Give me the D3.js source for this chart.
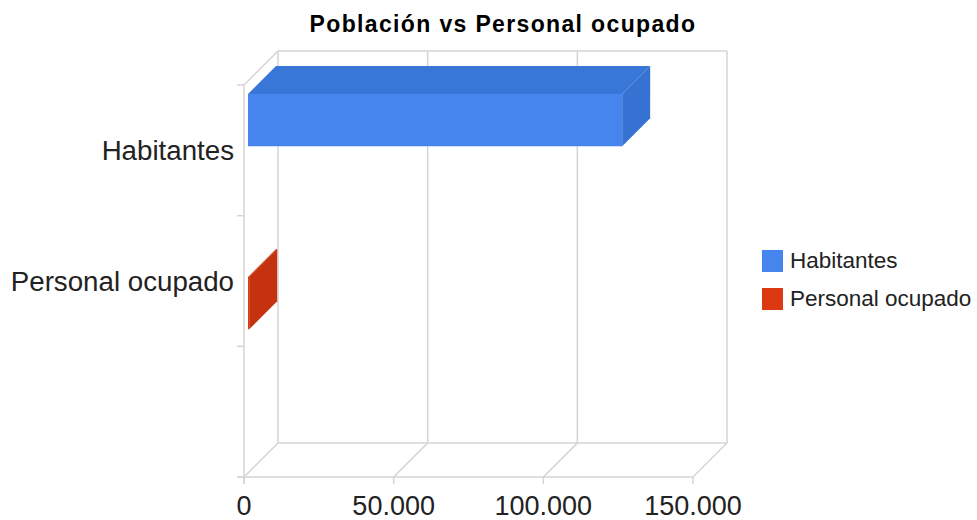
<!DOCTYPE html>
<html>
<head>
<meta charset="utf-8">
<script src="https://cdn.jsdelivr.net/npm/d3@7"></script>
<style>
  body { margin: 0; background: #fff; }
  svg { display: block; font-family: "Liberation Sans", Arial, sans-serif; }
</style>
</head>
<body>
<div id="canvas"></div>
<script>
// data
var categories = ["Habitantes", "Personal ocupado", ""];
var series = ["Habitantes", "Personal ocupado"];
var habitantes = [125000, 0, 0];
var personalOcupado = [0, 400, 0];
var xTicks = [0, 50000, 100000, 150000];
var title = "Población vs Personal ocupado";

var values = [habitantes, personalOcupado];

// colours per series: [front, top, side]
var shades = {
  "Habitantes": ["#4684ee", "#3877d8", "#3673d3"],
  "Personal ocupado": ["#dc3912", "#c8340f", "#c4320f"]
};
var legendColors = ["#4684ee", "#dc3912"];

var width = 977, height = 520;
var depth = 34;          // depth of the 3d box
var d0 = 4, d1 = 32;     // bar starts / ends in depth

var svg = d3.select("#canvas")
    .append("svg")
    .attr("width", width)
    .attr("height", height);

var x = d3.scaleLinear().domain([0, 150000]).range([244, 693]);

var y0 = d3.scaleBand()
    .domain(categories)
    .range([85, 477])
    .paddingInner(0.2)
    .paddingOuter(0.1);

var y1 = d3.scaleBand()
    .domain(series)
    .range([0, y0.bandwidth()]);

var es = d3.formatLocale({ decimal: ",", thousands: ".", grouping: [3], currency: ["", " €"] });
var fmt = es.format(",d");

var yTop = y0.range()[0], yBottom = y0.range()[1];
var step = y0.step();
var yBounds = d3.range(categories.length + 1).map(function (i) { return yTop + i * step; });

var grid = svg.append("g")
    .attr("stroke", "#d4d4d4")
    .attr("stroke-width", 1.5)
    .attr("fill", "none");

// back wall: vertical grid lines
grid.selectAll(".vgrid")
    .data(xTicks)
  .enter().append("line")
    .attr("x1", function (d) { return x(d) + depth; })
    .attr("x2", function (d) { return x(d) + depth; })
    .attr("y1", yTop - depth)
    .attr("y2", yBottom - depth);

// back wall top + bottom
grid.append("line")
    .attr("x1", x(0) + depth).attr("x2", x(150000) + depth)
    .attr("y1", yTop - depth).attr("y2", yTop - depth);
grid.append("line")
    .attr("x1", x(0) + depth).attr("x2", x(150000) + depth)
    .attr("y1", yBottom - depth).attr("y2", yBottom - depth);

// floor diagonals
grid.selectAll(".diag")
    .data(xTicks)
  .enter().append("line")
    .attr("x1", function (d) { return x(d); })
    .attr("x2", function (d) { return x(d) + depth; })
    .attr("y1", yBottom)
    .attr("y2", yBottom - depth);

// top left diagonal
grid.append("line")
    .attr("x1", x(0)).attr("x2", x(0) + depth)
    .attr("y1", yTop).attr("y2", yTop - depth);

// front axes
grid.append("line")
    .attr("x1", x(0)).attr("x2", x(0))
    .attr("y1", yTop).attr("y2", yBottom + 7);
grid.append("line")
    .attr("x1", x(0) - 7).attr("x2", x(150000))
    .attr("y1", yBottom).attr("y2", yBottom);

grid.selectAll(".ytick")
    .data(yBounds)
  .enter().append("line")
    .attr("x1", x(0) - 7).attr("x2", x(0))
    .attr("y1", function (d) { return d; })
    .attr("y2", function (d) { return d; });

grid.selectAll(".xtick")
    .data(xTicks)
  .enter().append("line")
    .attr("x1", function (d) { return x(d); })
    .attr("x2", function (d) { return x(d); })
    .attr("y1", yBottom)
    .attr("y2", yBottom + 7);

// bars
var bars = [];
categories.forEach(function (c, i) {
  series.forEach(function (s, j) {
    if (values[j][i] > 0) bars.push({ cat: c, ser: s, value: values[j][i] });
  });
});

function pts(a) { return a.map(function (p) { return p.join(","); }).join(" "); }

var g = svg.selectAll(".bar")
    .data(bars)
  .enter().append("g")
    .attr("class", "bar");

g.each(function (d) {
  var el = d3.select(this);
  var top = y0(d.cat) + y1(d.ser), h = y1.bandwidth();
  var xa = x(0), xb = x(d.value);
  var col = shades[d.ser];

  el.append("polygon")
    .attr("fill", col[0])
    .attr("points", pts([[xa + d0, top - d0], [xb + d0, top - d0], [xb + d0, top + h - d0], [xa + d0, top + h - d0]]));
  el.append("polygon")
    .attr("fill", col[1])
    .attr("points", pts([[xa + d0, top - d0], [xb + d0, top - d0], [xb + d1, top - d1], [xa + d1, top - d1]]));
  el.append("polygon")
    .attr("fill", col[2])
    .attr("points", pts([[xb + d0, top - d0], [xb + d1, top - d1], [xb + d1, top + h - d1], [xb + d0, top + h - d0]]));
});

// category labels
svg.selectAll(".cat")
    .data(categories)
  .enter().append("text")
    .attr("x", 234)
    .attr("y", function (d) { return y0(d) + y0.bandwidth() / 2; })
    .attr("dy", "0.36em")
    .attr("text-anchor", "end")
    .attr("font-size", 27.7)
    .attr("fill", "#222")
    .text(function (d) { return d; });

// value labels
svg.selectAll(".xlab")
    .data(xTicks)
  .enter().append("text")
    .attr("x", function (d) { return x(d); })
    .attr("y", 515)
    .attr("text-anchor", "middle")
    .attr("font-size", 27)
    .attr("fill", "#222")
    .text(function (d) { return fmt(d); });

// title
svg.append("text")
    .attr("x", 503)
    .attr("y", 32)
    .attr("text-anchor", "middle")
    .attr("font-size", 23)
    .attr("font-weight", "bold")
    .attr("letter-spacing", 1.35)
    .attr("fill", "#000")
    .text(title);

// legend
var leg = svg.selectAll(".legend")
    .data(series)
  .enter().append("g")
    .attr("transform", function (d, i) { return "translate(762," + (250 + i * 38) + ")"; });

leg.append("rect")
    .attr("width", 21)
    .attr("height", 22)
    .attr("fill", function (d, i) { return legendColors[i]; });

leg.append("text")
    .attr("x", 28)
    .attr("y", 18)
    .attr("font-size", 22.5)
    .attr("fill", "#222")
    .text(function (d) { return d; });
</script>
</body>
</html>
